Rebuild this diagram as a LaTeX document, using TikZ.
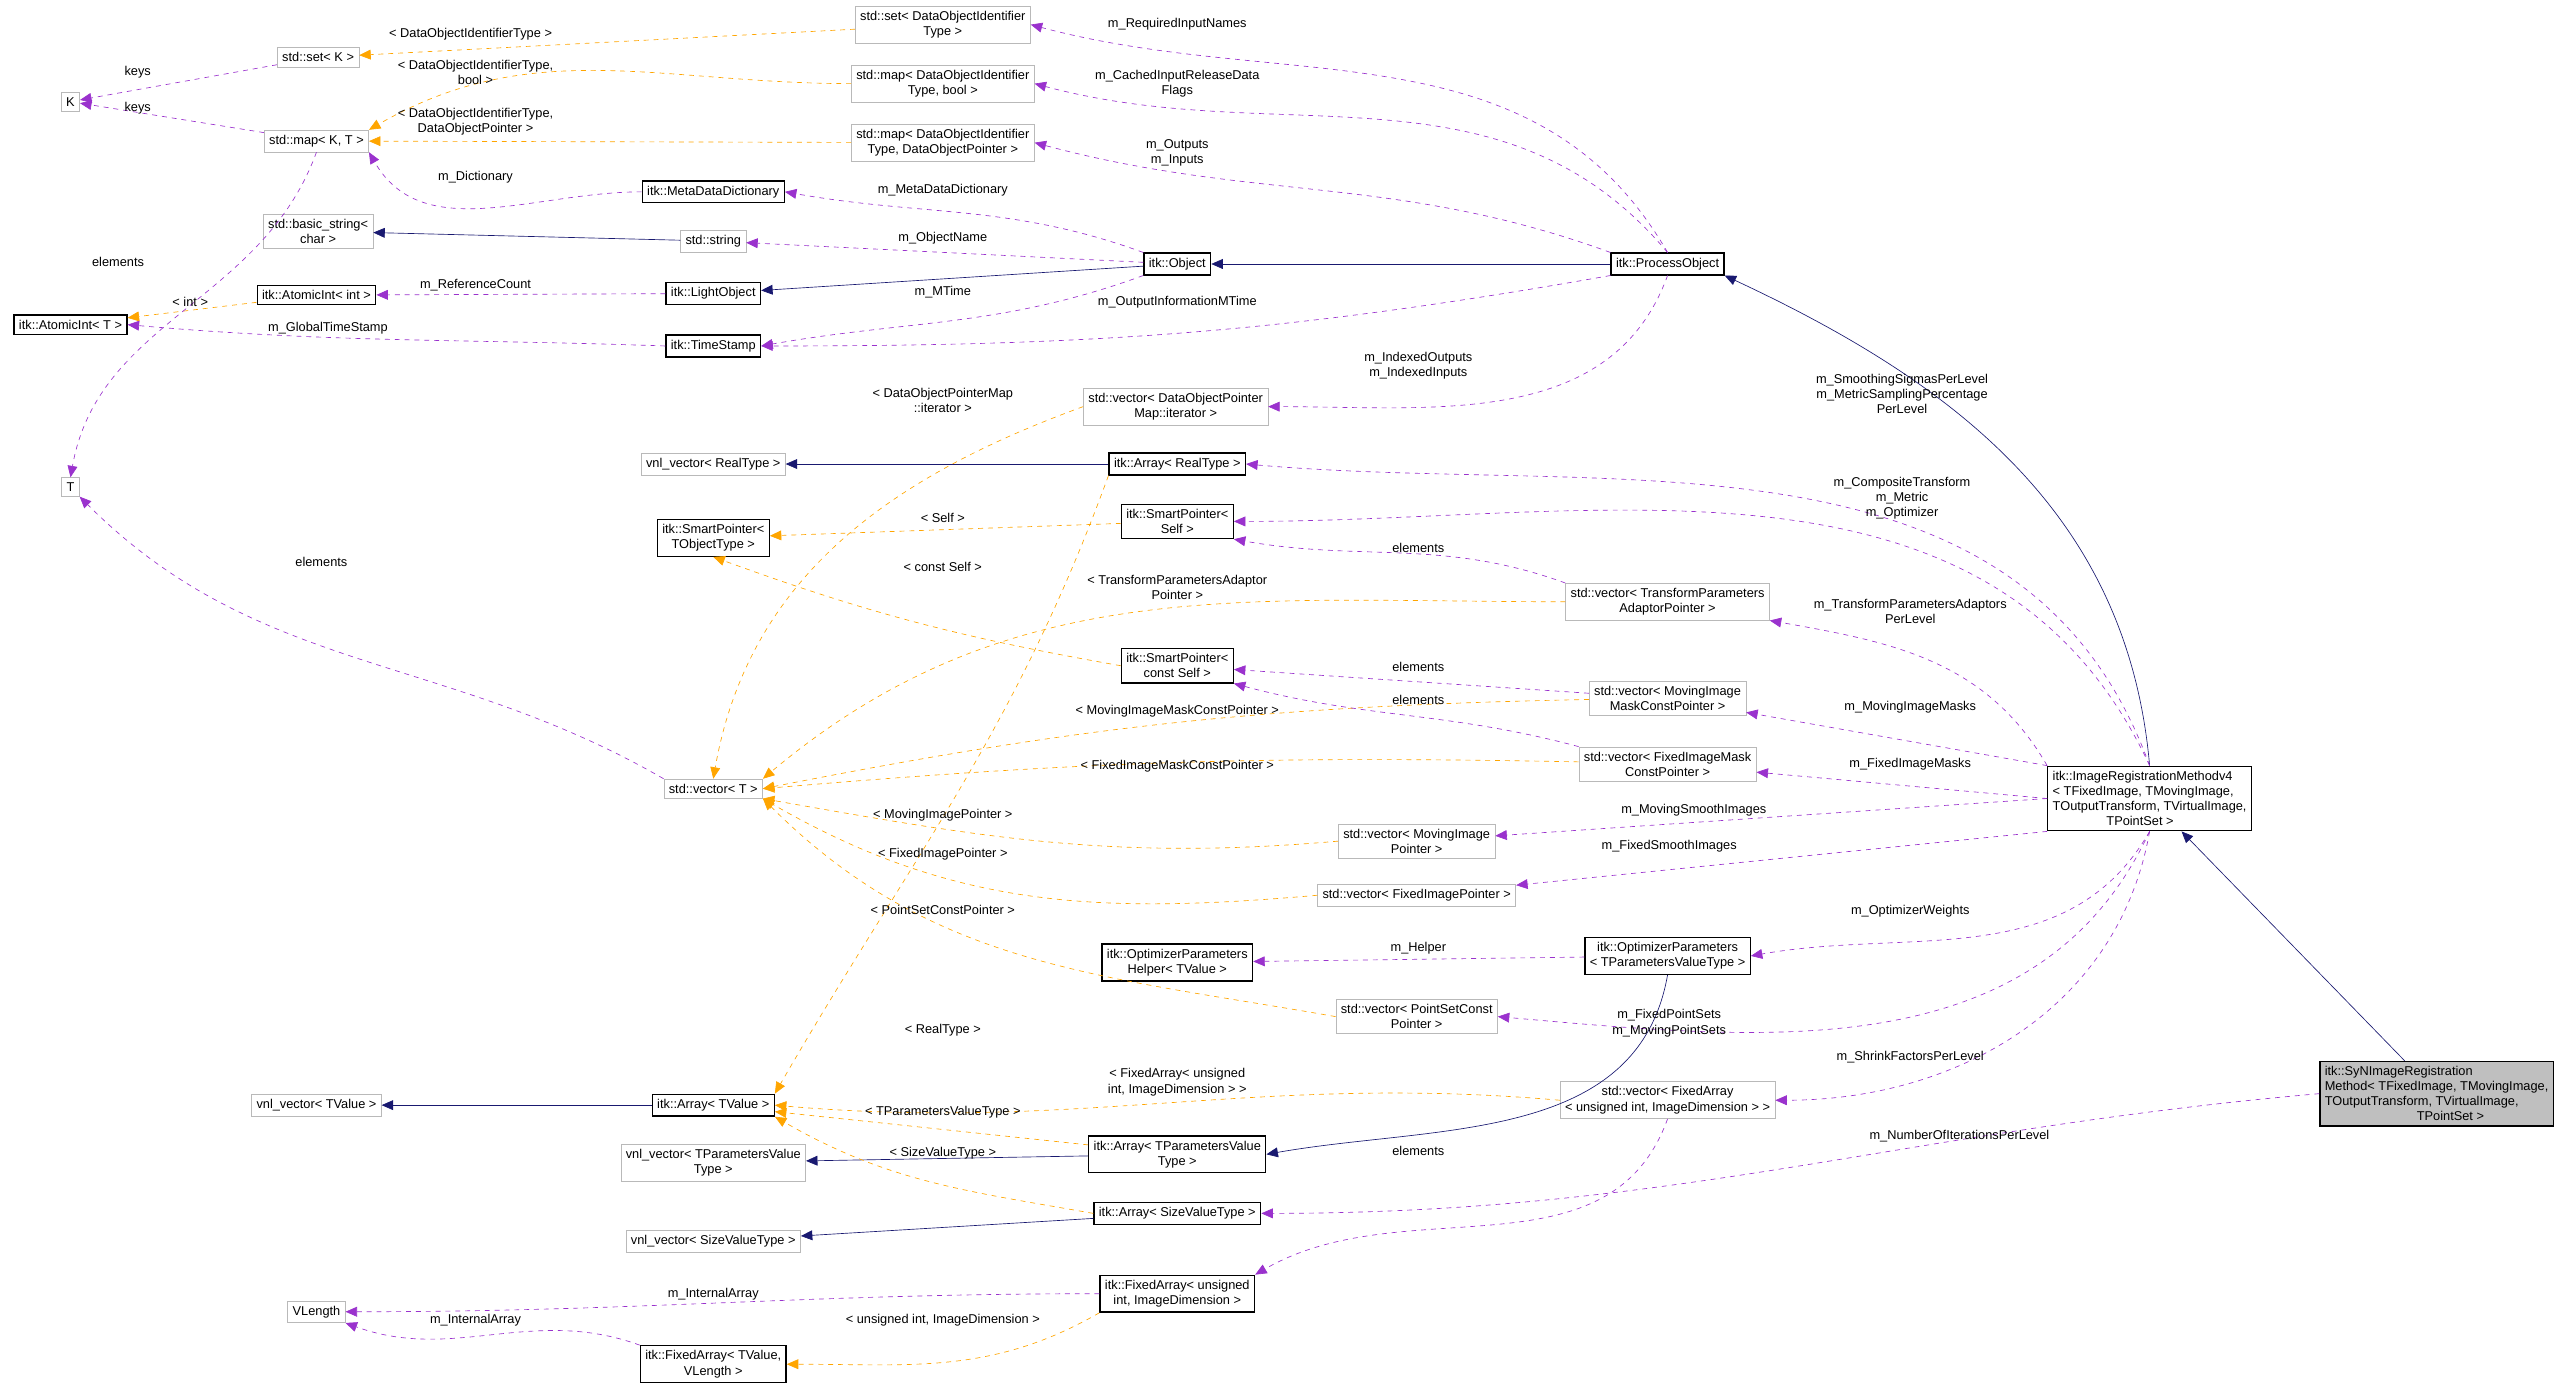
\documentclass[tikz,border=0pt]{standalone}
\usepackage{fontspec}
\setmainfont{Liberation Sans}
\usetikzlibrary{arrows.meta}

\definecolor{inh}{HTML}{191970}
\definecolor{usg}{HTML}{9A32CD}
\definecolor{tpl}{HTML}{FFA500}

\tikzset{
  cls/.style={draw=black, thick, fill=white, inner sep=3pt, align=center, font=\fontsize{7.8}{9.2}\selectfont},
  ext/.style={cls, draw=gray!55, thin},
  lbl/.style={inner sep=0pt, align=center, font=\fontsize{7.8}{9.2}\selectfont},
  inherit/.style={draw=inh, thin, -{Triangle[length=7pt,width=6pt]}},
  uses/.style={draw=usg, thin, dashed, -{Triangle[length=7pt,width=6pt]}},
  templ/.style={draw=tpl, thin, dashed, -{Triangle[length=7pt,width=6pt]}},
}

\begin{document}
\begin{tikzpicture}[x=1pt, y=-1pt]
\useasboundingbox (0,0) rectangle (1568,848);

% classes
\node[ext] (K) at (43,62) {K};
\node[ext] (setK) at (194,35) {std::set< K >};
\node[ext] (mapKT) at (193,86) {std::map< K, T >};
\node[ext] (basicstr) at (194,141) {std::basic\_string<\\char >};
\node[cls] (atomicInt) at (193,180) {itk::AtomicInt< int >};
\node[cls] (atomicT) at (43,198) {itk::AtomicInt< T >};
\node[ext] (T) at (43,297) {T};
\node[ext] (setDOI) at (575,15) {std::set< DataObjectIdentifier\\Type >};
\node[ext] (mapBool) at (575,51) {std::map< DataObjectIdentifier\\Type, bool >};
\node[ext] (mapPtr) at (575,87) {std::map< DataObjectIdentifier\\Type, DataObjectPointer >};
\node[cls] (metaDict) at (435,117) {itk::MetaDataDictionary};
\node[ext] (stdstring) at (435,147) {std::string};
\node[cls] (lightObj) at (435,179) {itk::LightObject};
\node[cls] (timeStamp) at (435,211) {itk::TimeStamp};
\node[cls] (object) at (718,161) {itk::Object};
\node[cls] (processObj) at (1017,161) {itk::ProcessObject};
\node[ext] (vecIter) at (717,248) {std::vector< DataObjectPointer\\Map::iterator >};
\node[ext] (vnlReal) at (435,283) {vnl\_vector< RealType >};
\node[cls] (arrReal) at (718,283) {itk::Array< RealType >};
\node[cls] (spSelf) at (718,318) {itk::SmartPointer<\\Self >};
\node[cls] (spTObj) at (435,328) {itk::SmartPointer<\\TObjectType >};
\node[ext] (vecTPA) at (1017,367) {std::vector< TransformParameters\\AdaptorPointer >};
\node[cls] (spConst) at (718,406) {itk::SmartPointer<\\const Self >};
\node[ext] (vecMovMask) at (1017,426) {std::vector< MovingImage\\MaskConstPointer >};
\node[ext] (vecFixMask) at (1017,466) {std::vector< FixedImageMask\\ConstPointer >};
\node[ext] (vecT) at (435,481) {std::vector< T >};
\node[cls, align=left] (regv4) at (1311,487) {itk::ImageRegistrationMethodv4\\< TFixedImage, TMovingImage,\\ TOutputTransform, TVirtualImage,\\\hspace*{4.2em}TPointSet >};
\node[ext] (vecMovImg) at (864,513) {std::vector< MovingImage\\Pointer >};
\node[ext] (vecFixImg) at (864,546) {std::vector< FixedImagePointer >};
\node[cls] (optHelper) at (718,587) {itk::OptimizerParameters\\Helper< TValue >};
\node[cls] (optParams) at (1017,583) {itk::OptimizerParameters\\< TParametersValueType >};
\node[ext] (vecPS) at (864,620) {std::vector< PointSetConst\\Pointer >};
\node[ext] (vnlTV) at (193,674) {vnl\_vector< TValue >};
\node[cls] (arrTV) at (435,674) {itk::Array< TValue >};
\node[ext] (vecFA) at (1017,671) {std::vector< FixedArray\\< unsigned int, ImageDimension > >};
\node[ext] (vnlTPV) at (435,709) {vnl\_vector< TParametersValue\\Type >};
\node[cls] (arrTPV) at (718,704) {itk::Array< TParametersValue\\Type >};
\node[cls] (arrSize) at (718,740) {itk::Array< SizeValueType >};
\node[ext] (vnlSize) at (435,757) {vnl\_vector< SizeValueType >};
\node[cls] (faUI) at (718,789) {itk::FixedArray< unsigned\\int, ImageDimension >};
\node[ext] (VLength) at (193,800) {VLength};
\node[cls] (faTV) at (435,832) {itk::FixedArray< TValue,\\VLength >};
\node[cls, fill=gray!50, align=left] (syn) at (1486,667) {itk::SyNImageRegistration\\Method< TFixedImage, TMovingImage,\\ TOutputTransform, TVirtualImage,\\\hspace*{7.2em}TPointSet >};

% inheritance
\draw[inherit] (stdstring) -- (basicstr);
\draw[inherit] (object) -- (lightObj);
\draw[inherit] (processObj) -- (object);
\draw[inherit] (arrReal) -- (vnlReal);
\draw[inherit] (regv4.north) to[out=95,in=-25] (processObj.south east);
\draw[inherit] (syn) -- (regv4);
\draw[inherit] (arrTV) -- (vnlTV);
\draw[inherit] (arrTPV) -- (vnlTPV);
\draw[inherit] (optParams.south) to[out=-100,in=10] (arrTPV.east);
\draw[inherit] (arrSize) -- (vnlSize);

% template instances
\draw[templ] (setDOI) -- (setK);
\draw[templ] (mapBool.west) to[out=180,in=30] (mapKT.north east);
\draw[templ] (mapPtr) -- (mapKT);
\draw[templ] (atomicInt) -- (atomicT);
\draw[templ] (vecIter.west) to[out=200,in=80] (vecT.north);
\draw[templ] (spSelf) -- (spTObj);
\draw[templ] (spConst.west) to[out=170,in=-20] (spTObj.south);
\draw[templ] (vecTPA.west) to[out=180,in=40] (vecT.north east);
\draw[templ] (vecMovMask) to[bend right=5] (vecT.east);
\draw[templ] (vecFixMask) to[bend right=3] (vecT.east);
\draw[templ] (vecMovImg.west) to[out=185,in=-10] (vecT.south east);
\draw[templ] (vecFixImg.west) to[out=185,in=-30] (vecT.south east);
\draw[templ] (vecPS.west) to[out=170,in=-45] (vecT.south east);
\draw[templ] (arrReal.south west) to[out=-110,in=60] (arrTV.north east);
\draw[templ] (vecFA.west) to[out=175,in=-5] (arrTV.east);
\draw[templ] (arrTPV) -- (arrTV);
\draw[templ] (arrSize.west) to[out=170,in=-30] (arrTV.south east);
\draw[templ] (faUI.south west) to[out=-150,in=0] (faTV.east);

% usage
\draw[uses] (setK) -- (K);
\draw[uses] (mapKT) -- (K);
\draw[uses] (mapKT.south) to[out=-110,in=80] (T.north);
\draw[uses] (vecT.north west) to[out=150,in=-45] (T.south east);
\draw[uses] (metaDict.west) to[out=180,in=-60] (mapKT.south east);
\draw[uses] (lightObj) -- (atomicInt);
\draw[uses] (timeStamp.west) to[out=178,in=-5] (atomicT.east);
\draw[uses] (object.north west) to[out=160,in=-10] (metaDict.east);
\draw[uses] (object) -- (stdstring);
\draw[uses] (object.south west) to[out=200,in=10] (timeStamp.east);
\draw[uses] (processObj.north) to[out=120,in=-15] (setDOI.east);
\draw[uses] (processObj.north) to[out=130,in=-15] (mapBool.east);
\draw[uses] (processObj.north west) to[out=160,in=-15] (mapPtr.east);
\draw[uses] (processObj.south west) to[out=190,in=0] (timeStamp.east);
\draw[uses] (processObj.south) to[out=-110,in=0] (vecIter.east);
\draw[uses] (regv4.north) to[out=110,in=-5] (arrReal.east);
\draw[uses] (regv4.north) to[out=115,in=0] (spSelf.east);
\draw[uses] (vecTPA.north west) to[out=160,in=-10] (spSelf.south east);
\draw[uses] (regv4.north west) to[out=120,in=-10] (vecTPA.south east);
\draw[uses] (vecMovMask) -- (spConst);
\draw[uses] (vecFixMask.north west) to[out=165,in=-15] (spConst.south east);
\draw[uses] (regv4.north west) -- (vecMovMask);
\draw[uses] (regv4.west) -- (vecFixMask);
\draw[uses] (regv4.west) -- (vecMovImg);
\draw[uses] (regv4.south west) -- (vecFixImg);
\draw[uses] (regv4.south) to[out=-120,in=10] (optParams.east);
\draw[uses] (optParams) -- (optHelper);
\draw[uses] (regv4.south) to[out=-115,in=-5] (vecPS.east);
\draw[uses] (regv4.south) to[out=-100,in=0] (vecFA.east);
\draw[uses] (syn.west) to[out=185,in=0] (arrSize.east);
\draw[uses] (vecFA.south) to[out=-110,in=30] (faUI.north east);
\draw[uses] (faUI.west) to[out=180,in=0] (VLength.east);
\draw[uses] (faTV.north west) to[out=160,in=-20] (VLength.south east);

% labels
\node[lbl] at (84,44) {keys};
\node[lbl] at (84,66) {keys};
\node[lbl] at (72,160) {elements};
\node[lbl] at (196,343) {elements};
\node[lbl] at (287,21) {< DataObjectIdentifierType >};
\node[lbl] at (290,44) {< DataObjectIdentifierType,\\bool >};
\node[lbl] at (290,74) {< DataObjectIdentifierType,\\DataObjectPointer >};
\node[lbl] at (290,108) {m\_Dictionary};
\node[lbl] at (116,184) {< int >};
\node[lbl] at (290,174) {m\_ReferenceCount};
\node[lbl] at (200,200) {m\_GlobalTimeStamp};
\node[lbl] at (575,116) {m\_MetaDataDictionary};
\node[lbl] at (575,145) {m\_ObjectName};
\node[lbl] at (575,178) {m\_MTime};
\node[lbl] at (718,15) {m\_RequiredInputNames};
\node[lbl] at (718,51) {m\_CachedInputReleaseData\\Flags};
\node[lbl] at (718,93) {m\_Outputs\\m\_Inputs};
\node[lbl] at (718,184) {m\_OutputInformationMTime};
\node[lbl] at (865,223) {m\_IndexedOutputs\\m\_IndexedInputs};
\node[lbl] at (575,244) {< DataObjectPointerMap\\::iterator >};
\node[lbl] at (1160,240) {m\_SmoothingSigmasPerLevel\\m\_MetricSamplingPercentage\\PerLevel};
\node[lbl] at (1160,304) {m\_CompositeTransform\\m\_Metric\\m\_Optimizer};
\node[lbl] at (575,316) {< Self >};
\node[lbl] at (575,346) {< const Self >};
\node[lbl] at (865,334) {elements};
\node[lbl] at (718,358) {< TransformParametersAdaptor\\Pointer >};
\node[lbl] at (1165,373) {m\_TransformParametersAdaptors\\PerLevel};
\node[lbl] at (865,407) {elements};
\node[lbl] at (865,427) {elements};
\node[lbl] at (718,434) {< MovingImageMaskConstPointer >};
\node[lbl] at (718,467) {< FixedImageMaskConstPointer >};
\node[lbl] at (1165,431) {m\_MovingImageMasks};
\node[lbl] at (1165,466) {m\_FixedImageMasks};
\node[lbl] at (575,497) {< MovingImagePointer >};
\node[lbl] at (575,521) {< FixedImagePointer >};
\node[lbl] at (575,555) {< PointSetConstPointer >};
\node[lbl] at (1033,494) {m\_MovingSmoothImages};
\node[lbl] at (1018,516) {m\_FixedSmoothImages};
\node[lbl] at (1165,556) {m\_OptimizerWeights};
\node[lbl] at (865,578) {m\_Helper};
\node[lbl] at (1018,624) {m\_FixedPointSets\\m\_MovingPointSets};
\node[lbl] at (1165,645) {m\_ShrinkFactorsPerLevel};
\node[lbl] at (575,628) {< RealType >};
\node[lbl] at (718,660) {< FixedArray< unsigned\\int, ImageDimension > >};
\node[lbl] at (575,678) {< TParametersValueType >};
\node[lbl] at (575,703) {< SizeValueType >};
\node[lbl] at (1195,693) {m\_NumberOfIterationsPerLevel};
\node[lbl] at (865,702) {elements};
\node[lbl] at (435,789) {m\_InternalArray};
\node[lbl] at (290,805) {m\_InternalArray};
\node[lbl] at (575,805) {< unsigned int, ImageDimension >};

\end{tikzpicture}
\end{document}
